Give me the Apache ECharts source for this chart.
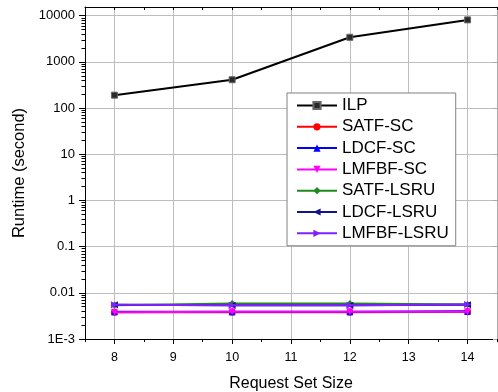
<!DOCTYPE html>
<html>
<head>
<meta charset="utf-8">
<script src="https://cdn.jsdelivr.net/npm/echarts@6/dist/echarts.min.js"></script>
<style>html,body{margin:0;padding:0;background:#fff}#c{width:498px;height:392px}</style>
</head>
<body>
<div id="c"></div>
<script>
var xValues = [8, 10, 12, 14];
var xTickLabels = [8, 9, 10, 11, 12, 13, 14];
var xMinorTicks = [7.5, 8.5, 9.5, 10.5, 11.5, 12.5, 13.5, 14.5];
var yTickLabels = [0.001, 0.01, 0.1, 1, 10, 100, 1000, 10000];
var yMinorTicks = [];
yTickLabels.forEach(function (d) { for (var k = 2; k <= 9; k++) { var v = d * k; if (v < 15400) yMinorTicks.push(+v.toPrecision(3)); } });

var seriesNames = ['ILP', 'SATF-SC', 'LDCF-SC', 'LMFBF-SC', 'SATF-LSRU', 'LDCF-LSRU', 'LMFBF-LSRU'];
var ILP = [190, 410, 3400, 8100];
var SATF_SC = [0.0038, 0.0038, 0.0038, 0.0039];
var LDCF_SC = [0.0039, 0.0039, 0.0039, 0.0040];
var LMFBF_SC = [0.0038, 0.0039, 0.0039, 0.0039];
var SATF_LSRU = [0.0054, 0.0059, 0.0059, 0.0056];
var LDCF_LSRU = [0.0055, 0.0054, 0.0054, 0.0055];
var LMFBF_LSRU = [0.0055, 0.0054, 0.0054, 0.0056];
var seriesData = [ILP, SATF_SC, LDCF_SC, LMFBF_SC, SATF_LSRU, LDCF_LSRU, LMFBF_LSRU];
var colors = ['#000000', '#ff0000', '#0000ff', '#ff00ff', '#1e8a1e', '#14148a', '#8020ff'];
var symbols = ['rect', 'circle', 'triangle',
  'path://M0,0 L10,0 L5,10 Z', 'diamond',
  'path://M10,0 L10,10 L0,5 Z', 'path://M0,0 L0,10 L10,5 Z'];

var FONT = '"Liberation Sans", Arial, sans-serif';
var chart = echarts.init(document.getElementById('c'), null, { renderer: 'canvas' });

var series = seriesNames.map(function (n, i) {
  return {
    name: n, type: 'line',
    data: xValues.map(function (x, j) { return [x, seriesData[i][j]]; }),
    symbol: symbols[i], symbolSize: i === 0 ? 6 : 7,
    lineStyle: { color: colors[i], width: 2 },
    itemStyle: { color: i === 0 ? '#2a2a2a' : colors[i], borderColor: i === 0 ? '#666' : colors[i], borderWidth: i === 0 ? 1 : 0 },
    emphasis: { disabled: true },
    animation: false, z: 3 + i
  };
});

var hiddenLine = { show: true, onZero: false, lineStyle: { color: 'rgba(0,0,0,0)', width: 1 } };

chart.setOption({
  animation: false,
  textStyle: { fontFamily: FONT },
  grid: { left: 85, right: 1, top: 7, bottom: 53, containLabel: false, outerBoundsMode: 'none' },
  legend: {
    orient: 'vertical', left: 287, top: 93,
    data: seriesNames,
    itemWidth: 40, itemHeight: 9, itemGap: 4.3,
    padding: [4, 7, 4, 9],
    borderColor: '#808080', borderWidth: 1, borderRadius: 0,
    backgroundColor: '#fff',
    textStyle: { fontFamily: FONT, fontSize: 17, color: '#000' },
    selectedMode: false
  },
  xAxis: [{
    type: 'value', min: 7.5, max: 14.5, position: 'bottom',
    name: 'Request Set Size', nameLocation: 'middle', nameGap: 37,
    nameTextStyle: { fontFamily: FONT, fontSize: 16, color: '#000' },
    axisLine: { show: true, onZero: false, lineStyle: { color: '#000', width: 1 } },
    axisTick: { show: true, inside: false, length: 5, customValues: xTickLabels, lineStyle: { color: '#000' } },
    axisLabel: { customValues: xTickLabels, fontFamily: FONT, fontSize: 12.5, color: '#000', margin: 12 },
    splitLine: { show: true, lineStyle: { color: '#bdbdbd', width: 1 } }
  }, {
    type: 'value', min: 7.5, max: 14.5, position: 'bottom',
    axisLine: hiddenLine,
    axisTick: { show: true, inside: false, length: 3, customValues: xMinorTicks, lineStyle: { color: '#000' } },
    axisLabel: { show: false, customValues: xMinorTicks },
    splitLine: { show: false }
  }, {
    type: 'value', min: 7.5, max: 14.5, position: 'top',
    axisLine: { show: true, onZero: false, lineStyle: { color: '#000', width: 1 } },
    axisTick: { show: true, inside: true, length: 3, customValues: xTickLabels.concat(xMinorTicks), lineStyle: { color: '#000' } },
    axisLabel: { show: false, customValues: xTickLabels },
    splitLine: { show: false }
  }],
  yAxis: [{
    type: 'log', logBase: 10, min: 0.001, max: 15400, position: 'left',
    name: 'Runtime (second)', nameLocation: 'middle', nameGap: 56,
    nameTextStyle: { fontFamily: FONT, fontSize: 16.5, color: '#000' },
    axisLine: { show: true, onZero: false, lineStyle: { color: '#000', width: 1 } },
    axisTick: { show: true, inside: false, length: 6, customValues: yTickLabels, lineStyle: { color: '#000' } },
    axisLabel: {
      customValues: yTickLabels, fontFamily: FONT, fontSize: 13, color: '#000', margin: 10,
      formatter: function (v) {
        if (Math.abs(v - 0.001) < 1e-9) return '1E-3';
        if (v >= 1) return String(Math.round(v));
        return String(+v.toPrecision(1));
      }
    },
    splitLine: { show: true, lineStyle: { color: '#bdbdbd', width: 1 } }
  }, {
    type: 'log', logBase: 10, min: 0.001, max: 15400, position: 'left',
    axisLine: hiddenLine,
    axisTick: { show: true, inside: false, length: 3.5, customValues: yMinorTicks, lineStyle: { color: '#000' } },
    axisLabel: { show: false, customValues: yMinorTicks },
    splitLine: { show: false }
  }, {
    type: 'log', logBase: 10, min: 0.001, max: 15400, position: 'right',
    axisLine: { show: true, onZero: false, lineStyle: { color: '#aaaaaa', width: 1 } },
    axisTick: { show: true, inside: true, length: 4, customValues: yTickLabels, lineStyle: { color: '#aaaaaa' } },
    axisLabel: { show: false, customValues: yTickLabels },
    splitLine: { show: false }
  }],
  series: series
});
</script>
</body>
</html>
